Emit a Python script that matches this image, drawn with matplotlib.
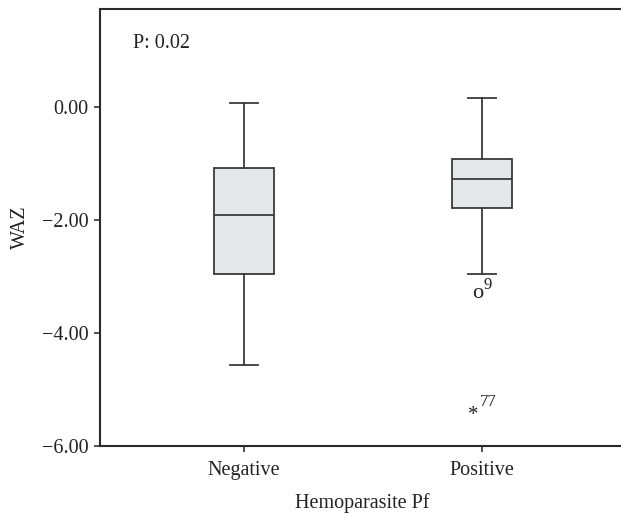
import matplotlib.pyplot as plt

plt.rcParams['font.family'] = ['Liberation Serif', 'DejaVu Serif']

groups = ['Negative', 'Positive']
q1 = [-2.95, -1.79]
med = [-1.92, -1.27]
q3 = [-1.09, -0.93]
whislo = [-4.56, -2.95]
whishi = [0.07, 0.16]

# outliers in the Positive group: value, case label, marker glyph
out_vals = [-3.25, -5.34]
out_ids = ['9', '77']
out_marks = ['o', '*']

edge = '#3a3a3a'
txt = '#222222'

fig = plt.figure(figsize=(6.21, 5.16), dpi=100)
ax = fig.add_axes([0.161, 0.1357, 0.845, 0.847])

stats = []
for i, g in enumerate(groups):
    stats.append(dict(label=g, med=med[i], q1=q1[i], q3=q3[i],
                      whislo=whislo[i], whishi=whishi[i], fliers=[]))

ax.bxp(stats, positions=[1, 2], widths=0.254, capwidths=0.118,
       patch_artist=True, showfliers=False,
       boxprops=dict(facecolor='#e6e7e8', edgecolor=edge, linewidth=1.3),
       medianprops=dict(color=edge, linewidth=1.3),
       whiskerprops=dict(color=edge, linewidth=1.3),
       capprops=dict(color=edge, linewidth=1.3))

# marker glyph offsets and label offsets (points)
mark_off = [(-3, -2), (-6, -5)]
lab_off = [(1, 4), (-1.5, 4.5)]
for v, lab, m, mo, lo in zip(out_vals, out_ids, out_marks, mark_off, lab_off):
    ax.annotate(m, (2, v), xytext=mo, textcoords='offset points',
                ha='center', va='center', fontsize=16 if m == 'o' else 15, color=txt)
    ax.annotate(lab, (2, v), xytext=lo, textcoords='offset points',
                ha='left', va='center', fontsize=12, color=txt)

ax.set_xlim(0.395, 2.6)
ax.set_ylim(-6.0, 1.73)
ax.set_yticks([0, -2, -4, -6])
ax.set_yticklabels(['0.00', '\u22122.00', '\u22124.00', '\u22126.00'])
ax.set_xticks([1, 2])
ax.set_xticklabels(groups)

for s in ['left', 'top', 'bottom']:
    ax.spines[s].set_color('#2a2a2a')
    ax.spines[s].set_linewidth(1.5)
ax.spines['right'].set_visible(False)

ax.tick_params(axis='both', length=4, width=1.2, color='#333333',
               labelsize=14.5, labelcolor=txt)
ax.tick_params(axis='x', pad=7)
ax.tick_params(axis='y', pad=4)

ax.set_xlabel('Hemoparasite Pf', fontsize=14.5, color=txt, labelpad=9)
ax.set_ylabel('WAZ', fontsize=14.5, color=txt, labelpad=9)

ax.text(0.063, 0.922, 'P: 0.02', transform=ax.transAxes, fontsize=14.5,
        color=txt, va='center', ha='left')

fig.savefig('out.png', dpi=100)
